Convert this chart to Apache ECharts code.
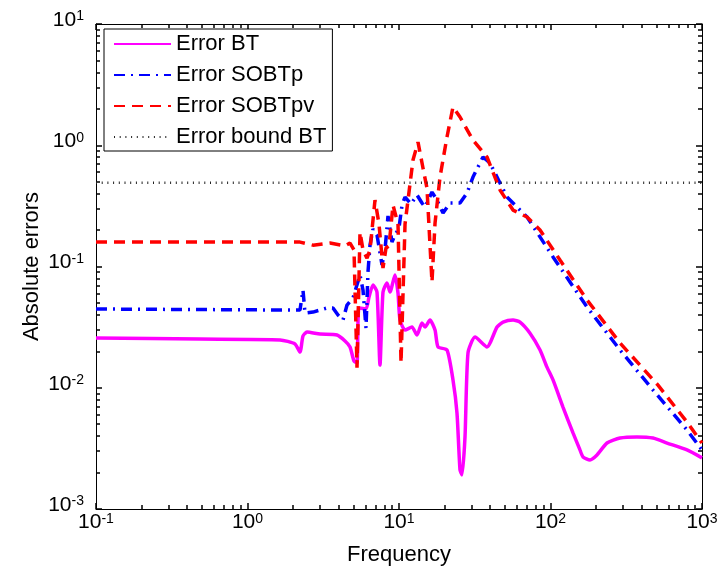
<!DOCTYPE html>
<html>
<head>
<meta charset="utf-8">
<script src="https://cdn.jsdelivr.net/npm/echarts@6/dist/echarts.min.js"></script>
<style>
  html, body { margin: 0; padding: 0; background: #fff; }
  #chart { width: 722px; height: 569px; }
</style>
</head>
<body>
<div id="chart"></div>
<script>
// Error BT (magenta, solid)
const freqBT = [0.1, 0.485, 1.639, 2.058, 2.221, 2.324, 2.47, 3.01, 3.897, 4.401, 4.75, 5.047, 5.282, 5.445, 6.056, 6.339, 6.735, 7.157, 7.491, 7.84, 8.332, 8.722, 9.41, 9.85, 10.15, 10.96, 12.18, 13.15, 14.18, 14.85, 16.02, 17.29, 18.09, 20.74, 22.72, 24.14, 25.27, 26.05, 27.27, 28.54, 31.75, 38.1, 44.37, 48.6, 56.56, 62.9, 73.22, 85.3, 94.8, 103.9, 120.9, 140.8, 156.5, 163.9, 182.3, 202.7, 236, 287.5, 372, 475, 588, 796, 1000];
const errBT = [0.0257, 0.0252, 0.0248, 0.023, 0.0197, 0.0267, 0.0288, 0.0277, 0.0272, 0.0243, 0.0217, 0.0166, 0.016, 0.0455, 0.0446, 0.056, 0.0703, 0.0615, 0.0154, 0.0615, 0.0731, 0.0615, 0.0851, 0.0604, 0.0362, 0.0299, 0.0317, 0.0272, 0.0342, 0.0317, 0.0362, 0.0299, 0.0217, 0.0205, 0.0116, 0.00619, 0.0021, 0.00191, 0.00393, 0.0194, 0.0262, 0.0217, 0.0317, 0.0348, 0.0362, 0.0348, 0.0282, 0.0205, 0.0148, 0.0116, 0.00693, 0.00424, 0.00307, 0.00269, 0.00254, 0.00279, 0.0035, 0.00385, 0.00393, 0.00385, 0.0035, 0.00307, 0.00264];

// Error SOBTp (blue, dash-dot)
const freqP = [0.1, 1.639, 2.221, 2.324, 2.396, 2.706, 3.348, 3.667, 3.957, 4.27, 4.538, 4.971, 5.528, 5.786, 6.056, 6.243, 6.436, 6.735, 7.157, 7.724, 8.083, 8.46, 8.99, 9.41, 10.0, 10.47, 10.96, 12.0, 13.15, 14.18, 14.85, 16.51, 17.82, 19.52, 21.71, 25.27, 28.11, 30.79, 35.85, 39.88, 51.64, 69.98, 103.9, 174.1, 287.5, 475, 796, 1000];
const errP = [0.0446, 0.0438, 0.0438, 0.064, 0.0413, 0.0421, 0.0455, 0.0455, 0.0398, 0.0362, 0.0481, 0.055, 0.0851, 0.064, 0.0311, 0.0901, 0.15, 0.204, 0.182, 0.103, 0.137, 0.261, 0.159, 0.182, 0.208, 0.321, 0.374, 0.327, 0.389, 0.334, 0.309, 0.411, 0.353, 0.276, 0.334, 0.334, 0.404, 0.547, 0.8, 0.714, 0.374, 0.256, 0.12, 0.0463, 0.0205, 0.00958, 0.00448, 0.00307];

// Error SOBTpv (red, dashed)
const freqPV = [0.1, 1.639, 2.221, 2.706, 3.505, 4.401, 4.75, 5.047, 5.282, 5.528, 5.786, 6.149, 6.436, 6.943, 7.379, 7.84, 8.207, 8.59, 9.13, 9.85, 10.31, 10.96, 12.37, 13.35, 14.4, 15.3, 16.02, 16.51, 17.29, 18.65, 20.74, 22.72, 25.27, 30.79, 38.1, 46.42, 56.56, 69.98, 85.25, 115.5, 174.1, 287.5, 512.4, 796, 1000];
const errPV = [0.159, 0.159, 0.159, 0.15, 0.156, 0.148, 0.156, 0.137, 0.0146, 0.192, 0.137, 0.117, 0.137, 0.353, 0.224, 0.0971, 0.142, 0.148, 0.321, 0.224, 0.016, 0.224, 0.756, 1.06, 0.649, 0.444, 0.15, 0.0744, 0.228, 0.547, 1.17, 2.07, 1.71, 1.1, 0.8, 0.428, 0.292, 0.256, 0.2, 0.113, 0.053, 0.0234, 0.0105, 0.00522, 0.0035];

// Error bound BT (black, dotted)
const freqBound = [0.1, 1000];
const errBound = [0.49, 0.49];

// log minor tick positions
const xMinorTicks = [0.2, 0.3, 0.4, 0.5, 0.6, 0.7, 0.8, 0.9, 2, 3, 4, 5, 6, 7, 8, 9, 20, 30, 40, 50, 60, 70, 80, 90, 200, 300, 400, 500, 600, 700, 800, 900];
const yMinorTicks = [0.002, 0.003, 0.004, 0.005, 0.006, 0.007, 0.008, 0.009, 0.02, 0.03, 0.04, 0.05, 0.06, 0.07, 0.08, 0.09, 0.2, 0.3, 0.4, 0.5, 0.6, 0.7, 0.8, 0.9, 2, 3, 4, 5, 6, 7, 8, 9];

const seriesNames = ['Error BT', 'Error SOBTp', 'Error SOBTpv', 'Error bound BT'];

const FONT = 'Liberation Sans';
const zip = (xs, ys) => xs.map((x, i) => [x, ys[i]]);

function powLabel(v) {
  const e = Math.round(Math.log10(v));
  const s = e < 0 ? '-' + (-e) : String(e);
  return '{b|10}{s|' + s + '}';
}
const labelRich = {
  b: { fontSize: 21, fontFamily: FONT, color: '#000', lineHeight: 21, padding: [8, 0, 0, 0], verticalAlign: 'bottom' },
  s: { fontSize: 14, fontFamily: FONT, color: '#000', lineHeight: 14, verticalAlign: 'top' }
};

const lineBlack = { color: '#000', width: 1 };
const tickBlack = { color: '#000', width: 1.5 };

// one axis of the box: main = decades with labels / ticks, minor = 2..9 ticks only
function logAxis(min, max, pos, opts) {
  return Object.assign({
    type: 'log', logBase: 10, min: min, max: max, position: pos,
    axisLine: { show: true, onZero: false, lineStyle: lineBlack },
    axisTick: { show: true, inside: true, length: 6, lineStyle: tickBlack },
    axisLabel: { show: false },
    splitLine: { show: false }
  }, opts || {});
}
function minorAxis(min, max, pos, ticks) {
  return logAxis(min, max, pos, {
    axisLine: { show: false, onZero: false },
    axisTick: { show: true, inside: true, length: 4, customValues: ticks, lineStyle: tickBlack },
    axisPointer: { show: false }
  });
}

const chart = echarts.init(document.getElementById('chart'));
chart.setOption({
  animation: false,
  backgroundColor: '#fff',
  grid: { left: 96, right: 20, top: 24, bottom: 60, outerBoundsMode: 'none' },
  legend: {
    data: seriesNames,
    orient: 'vertical',
    left: 104,
    top: 29,
    padding: [4, 6, 3, 9],
    itemGap: 9,
    itemWidth: 57,
    itemHeight: 14,
    backgroundColor: '#fff',
    borderColor: '#000',
    borderWidth: 1,
    borderRadius: 0,
    itemStyle: { opacity: 0 },
    textStyle: { fontSize: 22, fontFamily: FONT, color: '#000' }
  },
  xAxis: [
    logAxis(0.1, 1000, 'bottom', {
      axisLabel: { show: true, formatter: powLabel, rich: labelRich, margin: 3 },
      name: 'Frequency', nameLocation: 'middle', nameGap: 35, nameMoveOverlap: false,
      nameTextStyle: { fontSize: 22, fontFamily: FONT, color: '#000' }
    }),
    logAxis(0.1, 1000, 'top'),
    minorAxis(0.1, 1000, 'bottom', xMinorTicks),
    minorAxis(0.1, 1000, 'top', xMinorTicks)
  ],
  yAxis: [
    logAxis(0.001, 10, 'left', {
      axisLabel: { show: true, formatter: powLabel, rich: labelRich, margin: 12, padding: [0, 0, 8, 0] },
      name: 'Absolute errors', nameLocation: 'middle', nameGap: 53, nameMoveOverlap: false,
      nameTextStyle: { fontSize: 22, fontFamily: FONT, color: '#000' }
    }),
    logAxis(0.001, 10, 'right'),
    minorAxis(0.001, 10, 'left', yMinorTicks),
    minorAxis(0.001, 10, 'right', yMinorTicks)
  ],
  series: [
    {
      name: seriesNames[0], type: 'line', data: zip(freqBT, errBT),
      symbol: 'none', smooth: 0.2, color: '#ff00ff',
      lineStyle: { color: '#ff00ff', width: 3.5 }
    },
    {
      name: seriesNames[1], type: 'line', data: zip(freqP, errP),
      symbol: 'none', color: '#0000ff',
      lineStyle: { color: '#0000ff', width: 3.5, type: [11, 6, 2, 6], cap: 'butt' }
    },
    {
      name: seriesNames[2], type: 'line', data: zip(freqPV, errPV),
      symbol: 'none', color: '#ff0000',
      lineStyle: { color: '#ff0000', width: 3.5, type: [11, 7], cap: 'butt' }
    },
    {
      name: seriesNames[3], type: 'line', data: zip(freqBound, errBound),
      symbol: 'none', color: '#000',
      lineStyle: { color: '#222', width: 2.5, type: [1, 4.7], cap: 'butt' }
    }
  ]
});
</script>
</body>
</html>
